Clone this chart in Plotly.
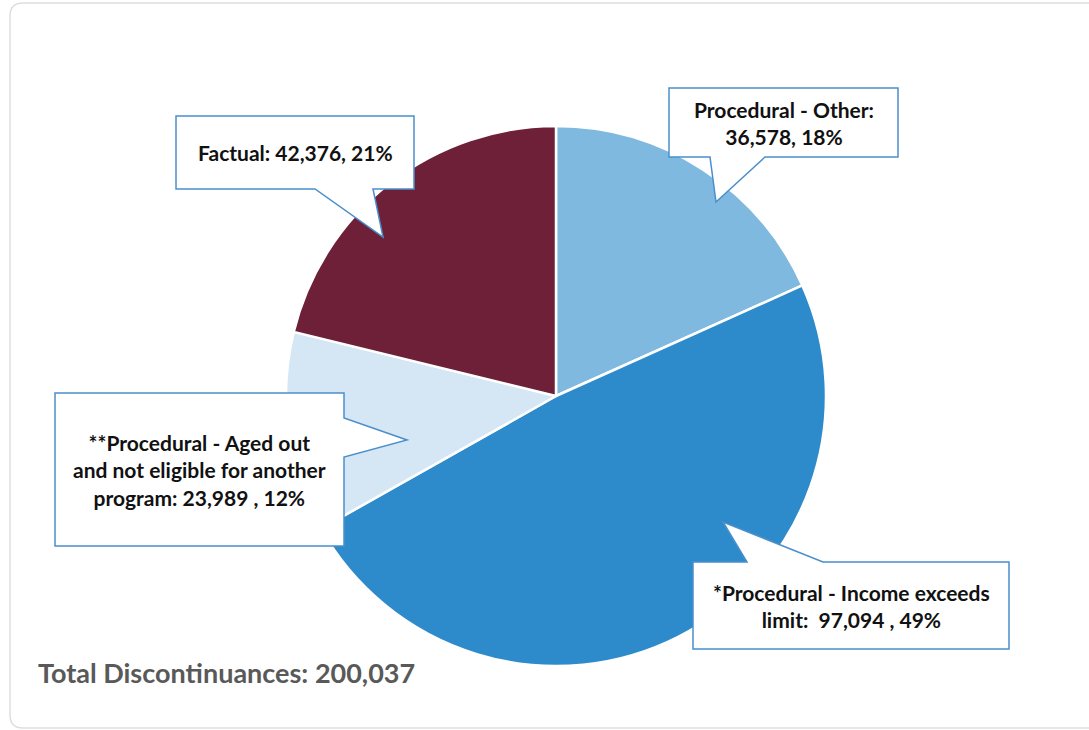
import plotly.graph_objects as go

W, H = 1089, 730

labels = ["Procedural - Other", "*Procedural - Income exceeds limit",
          "**Procedural - Aged out and not eligible for another program", "Factual"]
values = [36578, 97094, 23989, 42376]
colors = ["#7FB9E0", "#2E8BCB", "#D5E6F4", "#6E2038"]
callout_texts = [
    "Procedural - Other:<br>36,578, 18%",
    "*Procedural - Income exceeds<br>limit:  97,094 , 49%",
    "**Procedural - Aged out<br>and not eligible for another<br>program: 23,989 , 12%",
    "Factual: 42,376, 21%",
]
total_text = "Total Discontinuances: 200,037"

def px(x):
    return x / W

def py(y):
    return 1 - y / H

def P(x, y):
    return f"{px(x):.5f},{py(y):.5f}"

cx, cy, r = 556, 396, 270

fig = go.Figure(go.Pie(
    labels=labels, values=values, sort=False, direction="clockwise", rotation=0,
    marker=dict(colors=colors, line=dict(color="white", width=2.5)),
    textinfo="none", hoverinfo="label+value+percent", showlegend=False,
    domain=dict(x=[px(cx - r), px(cx + r)], y=[py(cy + r), py(cy - r)]),
))

# callout geometry in pixels: box (x0,y0,x1,y1), pointer base (side, a, b), tip
callouts = [
    dict(box=(669, 88, 898, 157), side="bottom", base=(710, 765), tip=(716, 202)),
    dict(box=(693, 562, 1009, 649), side="top", base=(747, 823), tip=(723, 522)),
    dict(box=(55, 393, 344, 546), side="right", base=(418, 457), tip=(407, 440)),
    dict(box=(176, 116, 414, 189), side="bottom", base=(315, 373), tip=(383, 237)),
]

def path_for(c):
    x0, y0, x1, y1 = c["box"]
    a, b = c["base"]
    tx, ty = c["tip"]
    if c["side"] == "bottom":
        pts = [(x0, y0), (x1, y0), (x1, y1), (b, y1), (tx, ty), (a, y1), (x0, y1)]
    elif c["side"] == "top":
        pts = [(x0, y0), (a, y0), (tx, ty), (b, y0), (x1, y0), (x1, y1), (x0, y1)]
    else:  # right
        pts = [(x0, y0), (x1, y0), (x1, a), (tx, ty), (x1, b), (x1, y1), (x0, y1)]
    return "M " + " L ".join(P(x, y) for x, y in pts) + " Z"

# card outline with rounded left corners, open on the right (runs off the edge)
cl, ct, cb, rad = 10, 3, 728, 13
card_path = (f"M {P(1100, ct)} L {P(cl + rad, ct)} Q {P(cl, ct)} {P(cl, ct + rad)} "
             f"L {P(cl, cb - rad)} Q {P(cl, cb)} {P(cl + rad, cb)} L {P(1100, cb)}")

shapes = [dict(type="path", xref="paper", yref="paper", path=card_path,
               line=dict(color="#DEDEDE", width=1.5), layer="below")]
annotations = []
for c, t in zip(callouts, callout_texts):
    shapes.append(dict(type="path", xref="paper", yref="paper", path=path_for(c),
                       line=dict(color="#4A8FCB", width=1.5), fillcolor="white",
                       layer="above"))
    x0, y0, x1, y1 = c["box"]
    annotations.append(dict(x=px((x0 + x1) / 2), y=py((y0 + y1) / 2), xref="paper",
                            yref="paper", text=t, showarrow=False,
                            font=dict(family="Lato", size=21, color="#111111", weight="bold"),
                            xanchor="center", yanchor="middle", align="center"))

annotations.append(dict(x=px(36), y=py(672), xref="paper", yref="paper", text=total_text,
                        showarrow=False, xanchor="left", yanchor="middle",
                        font=dict(family="Lato", size=27, color="#595959", weight="bold")))

fig.update_layout(width=W, height=H, margin=dict(l=0, r=0, t=0, b=0),
                  paper_bgcolor="white", plot_bgcolor="white",
                  shapes=shapes, annotations=annotations)

fig.write_html("out.html", config={"displayModeBar": False})

# remove the default page margin so the figure sits at the window origin
with open("out.html", encoding="utf-8") as f:
    html = f.read()
html = html.replace("<head>", "<head><style>html,body{margin:0;padding:0;overflow:hidden;}</style>", 1)
with open("out.html", "w", encoding="utf-8") as f:
    f.write(html)
